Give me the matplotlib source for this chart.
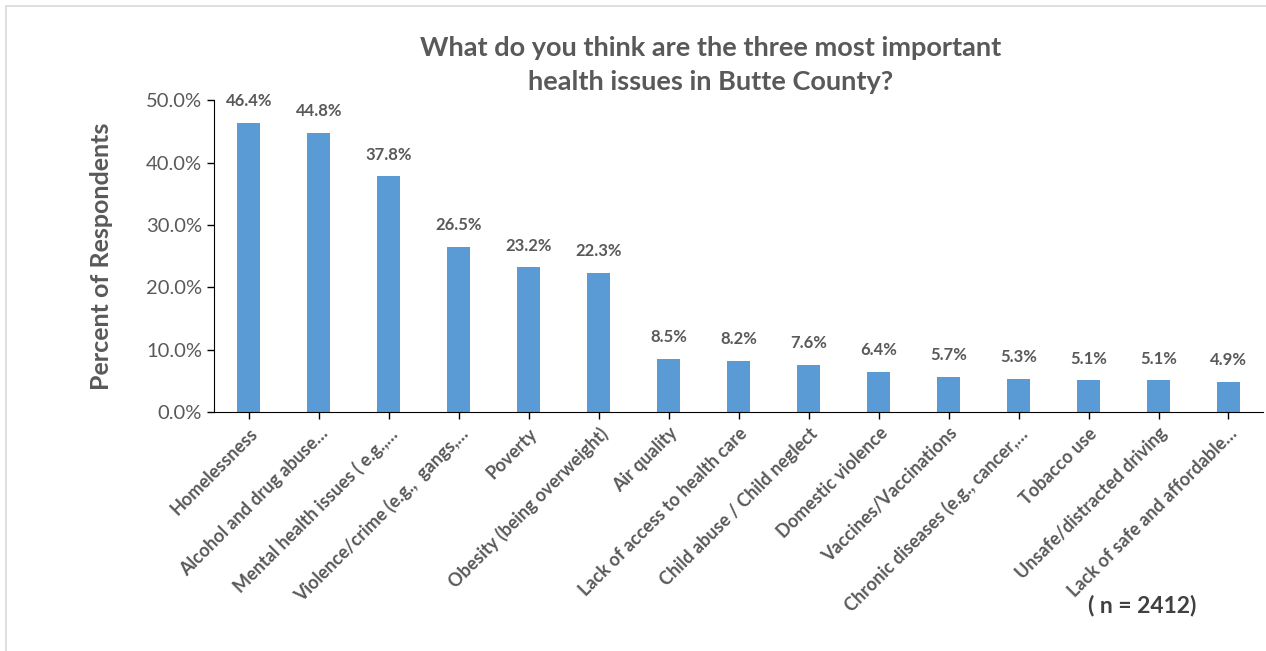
import matplotlib.pyplot as plt
from matplotlib.patches import Rectangle
import numpy as np

issues = ['Homelessness', 'Alcohol and drug abuse…', 'Mental health issues ( e.g.,…',
          'Violence/crime (e.g.,  gangs,…', 'Poverty', 'Obesity (being overweight)',
          'Air quality', 'Lack of access to health care', 'Child abuse / Child neglect',
          'Domestic violence', 'Vaccines/Vaccinations', 'Chronic diseases (e.g., cancer,…',
          'Tobacco use', 'Unsafe/distracted driving', 'Lack of safe and affordable…']
percent = [46.4, 44.8, 37.8, 26.5, 23.2, 22.3, 8.5, 8.2, 7.6, 6.4, 5.7, 5.3, 5.1, 5.1, 4.9]
yticks = [0, 10, 20, 30, 40, 50]

plt.rcParams['font.family'] = ['Lato', 'DejaVu Sans']
grey = '#595959'

fig = plt.figure(figsize=(12.66, 6.51), dpi=100)
fig.patches.append(Rectangle((6 / 1266, -0.01), 1.0, 1 - 6 / 651 + 0.01,
                             transform=fig.transFigure, fill=False,
                             edgecolor='#d9d9d9', linewidth=1.2))

ax = fig.add_axes([0.169, 0.367, 0.829, 0.479])
x = np.arange(len(issues))
ax.bar(x, percent, width=0.33, color='#5B9BD5')
for xi, v in zip(x, percent):
    ax.text(xi, v + 2.2, f'{v:.1f}%', ha='center', va='bottom',
            fontsize=12, fontweight='bold', color=grey)

ax.set_xlim(-0.5, len(issues) - 0.5)
ax.set_ylim(0, 50)
ax.set_yticks(yticks)
ax.set_yticklabels([f'{t:.1f}%' for t in yticks], fontsize=14.5, color=grey)
ax.set_xticks(x)
ax.set_xticklabels(issues, rotation=45, ha='right', rotation_mode='anchor',
                   fontsize=13, fontweight='bold', color=grey)
ax.tick_params(axis='both', direction='out', length=5, width=1, color='black')
ax.tick_params(axis='x', pad=4)
for side in ['top', 'right']:
    ax.spines[side].set_visible(False)
ax.set_ylabel('Percent of Respondents', fontsize=18, fontweight='bold',
              color=grey, labelpad=24)

fig.text(0.561, 0.9, 'What do you think are the three most important\nhealth issues in Butte County?',
         ha='center', va='center', fontsize=19.5, fontweight='bold', color=grey,
         linespacing=1.5)
fig.text(0.902, 0.07, '( n = 2412)', ha='center', va='center',
         fontsize=16.5, fontweight='bold', color='#404040')

fig.savefig('out.png', dpi=100)
